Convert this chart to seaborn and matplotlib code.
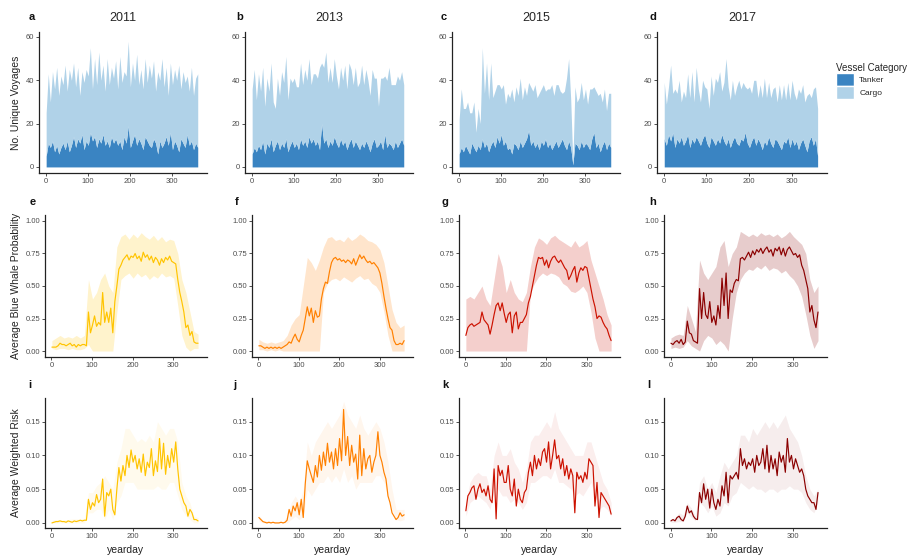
import numpy as np
import matplotlib
matplotlib.use('Agg')
import matplotlib.pyplot as plt
from matplotlib.patches import Patch
import seaborn as sns

years = ['2011', '2013', '2015', '2017']
letters = 'abcdefghijkl'

# day of year, sampled every 5 days (lines / areas) and every 10 days (ribbons)
days5 = np.arange(1, 366, 5)
days10 = np.arange(1, 366, 10)

# ---- row 1: unique voyages per day ----
tanker_2011 = [5, 11, 9, 12, 7, 10, 6, 9, 11, 8,
               12, 7, 10, 14, 9, 13, 11, 15, 8, 12,
               10, 16, 12, 14, 9, 13, 11, 15, 10, 12,
               9, 14, 11, 13, 10, 12, 8, 14, 11, 19,
               9, 12, 15, 10, 13, 11, 8, 14, 12, 10,
               9, 13, 11, 6, 12, 9, 11, 14, 10, 16,
               8, 12, 10, 7, 13, 11, 9, 15, 10, 12,
               8, 11, 9]
cargo_2011 = [20, 32, 21, 32, 29, 36, 27, 33, 27, 39,
              23, 38, 30, 34, 28, 33, 22, 29, 31, 33,
              32, 39, 24, 36, 29, 40, 29, 32, 25, 38,
              29, 32, 30, 36, 26, 39, 31, 30, 31, 39,
              28, 36, 25, 42, 25, 34, 28, 36, 27, 37,
              32, 36, 24, 38, 28, 41, 26, 32, 23, 32,
              30, 33, 30, 40, 23, 33, 30, 27, 25, 34,
              25, 30, 34]
tanker_2013 = [6, 9, 7, 10, 8, 12, 6, 11, 9, 13,
               7, 10, 12, 8, 11, 9, 13, 7, 10, 12,
               9, 11, 8, 13, 10, 12, 9, 14, 11, 13,
               10, 12, 8, 20, 11, 13, 9, 12, 10, 14,
               11, 9, 13, 10, 12, 8, 11, 13, 9, 12,
               10, 8, 11, 9, 12, 10, 7, 11, 13, 9,
               10, 12, 8, 15, 9, 11, 10, 8, 12, 9,
               11, 13, 10]
cargo_2013 = [30, 36, 24, 33, 27, 34, 22, 30, 26, 35,
              23, 17, 29, 25, 33, 30, 38, 24, 31, 27,
              32, 26, 29, 35, 28, 33, 31, 36, 27, 30,
              33, 29, 38, 28, 35, 40, 30, 34, 29, 36,
              31, 27, 33, 30, 35, 28, 37, 32, 29, 34,
              27, 31, 36, 29, 33, 30, 26, 34, 28, 32,
              18, 29, 33, 27, 31, 35, 28, 30, 26, 33,
              29, 31, 28]
tanker_2015 = [6, 9, 7, 10, 8, 6, 11, 9, 7, 10,
               8, 13, 9, 11, 7, 10, 12, 9, 14, 11,
               15, 10, 12, 8, 9, 6, 11, 10, 8, 12,
               9, 11, 13, 17, 10, 12, 9, 11, 8, 12,
               10, 13, 9, 11, 8, 10, 12, 9, 11, 13,
               10, 8, 12, 9, 1, 11, 10, 8, 12, 9,
               11, 10, 8, 13, 16, 9, 11, 7, 10, 12,
               8, 11, 9]
cargo_2015 = [16, 27, 20, 17, 22, 19, 14, 21, 9, 17,
              12, 42, 25, 37, 24, 38, 20, 26, 24, 27,
              21, 28, 17, 26, 23, 30, 19, 27, 25, 29,
              22, 26, 20, 22, 27, 23, 29, 21, 26, 24,
              28, 22, 27, 25, 30, 23, 26, 29, 24, 21,
              25, 33, 38, 22, 1, 26, 20, 24, 27, 22,
              25, 19, 28, 23, 21, 26, 22, 27, 20, 24,
              18, 23, 25]
tanker_2017 = [13, 10, 15, 12, 16, 9, 13, 11, 14, 10,
               12, 15, 9, 13, 11, 14, 12, 10, 13, 15,
               11, 9, 14, 12, 10, 13, 11, 15, 12, 10,
               13, 9, 12, 14, 11, 10, 13, 12, 16, 11,
               9, 12, 14, 10, 13, 11, 8, 12, 10, 14,
               11, 9, 13, 12, 10, 8, 12, 11, 14, 9,
               13, 10, 12, 8, 11, 13, 10, 7, 12, 14,
               10, 13, 5]
cargo_2017 = [26, 19, 22, 35, 18, 27, 21, 29, 16, 25,
              20, 28, 23, 31, 19, 32, 24, 20, 27, 22,
              25, 18, 28, 21, 31, 26, 33, 20, 27, 40,
              24, 22, 28, 19, 26, 30, 23, 27, 21, 25,
              28, 22, 26, 30, 19, 27, 24, 29, 22, 25,
              21, 27, 24, 18, 28, 23, 26, 20, 25, 22,
              27, 24, 19, 28, 23, 25, 20, 26, 22, 18,
              26, 24, 22]

# ---- row 2: average blue whale probability ----
prob_2011 = [0.03, 0.03, 0.03, 0.04, 0.06, 0.05, 0.05, 0.04, 0.05, 0.06,
             0.04, 0.05, 0.03, 0.05, 0.04, 0.05, 0.05, 0.04, 0.30, 0.14,
             0.20, 0.27, 0.19, 0.22, 0.20, 0.45, 0.22, 0.30, 0.22, 0.33,
             0.14, 0.38, 0.50, 0.63, 0.66, 0.70, 0.72, 0.74, 0.70, 0.73,
             0.72, 0.75, 0.71, 0.73, 0.69, 0.76, 0.72, 0.74, 0.70, 0.73,
             0.68, 0.72, 0.70, 0.66, 0.71, 0.68, 0.72, 0.70, 0.73, 0.69,
             0.68, 0.67, 0.55, 0.45, 0.38, 0.30, 0.18, 0.20, 0.12, 0.15,
             0.07, 0.06, 0.06]
prob_lo_2011 = [0.02, 0.01, 0.02, 0.02, 0.01, 0.02, 0.01, 0.01, 0.02, 0.05,
                0.0, 0.0, 0.0, 0.0, 0.0, 0.0, 0.30, 0.55, 0.58, 0.60,
                0.56, 0.60, 0.57, 0.59, 0.55, 0.58, 0.56, 0.60, 0.57, 0.58,
                0.56, 0.35, 0.12, 0.03, 0.0, 0.02, 0.02]
prob_hi_2011 = [0.08, 0.10, 0.12, 0.10, 0.11, 0.10, 0.12, 0.10, 0.12, 0.55,
                0.40, 0.45, 0.55, 0.60, 0.50, 0.45, 0.80, 0.88, 0.90, 0.86,
                0.90, 0.87, 0.91, 0.88, 0.86, 0.89, 0.85, 0.88, 0.84, 0.86,
                0.85, 0.75, 0.55, 0.45, 0.30, 0.15, 0.13]
prob_2013 = [0.04, 0.04, 0.03, 0.02, 0.03, 0.02, 0.03, 0.02, 0.03, 0.02,
             0.03, 0.02, 0.03, 0.04, 0.05, 0.07, 0.06, 0.10, 0.13, 0.09,
             0.07, 0.12, 0.16, 0.25, 0.34, 0.27, 0.33, 0.22, 0.31, 0.26,
             0.27, 0.40, 0.48, 0.53, 0.52, 0.61, 0.68, 0.71, 0.72, 0.70,
             0.71, 0.69, 0.70, 0.68, 0.70, 0.69, 0.67, 0.71, 0.66, 0.70,
             0.74, 0.71, 0.73, 0.70, 0.68, 0.69, 0.67, 0.68, 0.66, 0.64,
             0.60, 0.52, 0.42, 0.33, 0.25, 0.18, 0.16, 0.08, 0.05, 0.05,
             0.06, 0.05, 0.08]
prob_lo_2013 = [0.01, 0.01, 0.0, 0.01, 0.0, 0.01, 0.0, 0.0, 0.0, 0.0,
                0.0, 0.0, 0.0, 0.0, 0.0, 0.0, 0.45, 0.52, 0.55, 0.56,
                0.54, 0.57, 0.55, 0.53, 0.56, 0.58, 0.55, 0.56, 0.52, 0.50,
                0.45, 0.30, 0.12, 0.0, 0.0, 0.0, 0.0]
prob_hi_2013 = [0.09, 0.07, 0.06, 0.07, 0.06, 0.07, 0.08, 0.12, 0.20, 0.25,
                0.28, 0.50, 0.72, 0.68, 0.62, 0.70, 0.80, 0.87, 0.88, 0.85,
                0.86, 0.84, 0.88, 0.85, 0.87, 0.90, 0.88, 0.85, 0.84, 0.82,
                0.78, 0.68, 0.50, 0.32, 0.22, 0.18, 0.20]
prob_2015 = [0.12, 0.18, 0.20, 0.21, 0.19, 0.20, 0.21, 0.22, 0.30, 0.24,
             0.22, 0.20, 0.13, 0.20, 0.28, 0.35, 0.37, 0.31, 0.37, 0.29,
             0.22, 0.28, 0.30, 0.14, 0.27, 0.30, 0.17, 0.22, 0.22, 0.25,
             0.28, 0.37, 0.42, 0.50, 0.58, 0.66, 0.72, 0.71, 0.72, 0.66,
             0.70, 0.64, 0.69, 0.72, 0.73, 0.70, 0.68, 0.70, 0.67, 0.64,
             0.62, 0.55, 0.58, 0.62, 0.65, 0.53, 0.60, 0.64, 0.62, 0.65,
             0.64, 0.56, 0.48, 0.40, 0.34, 0.25, 0.27, 0.26, 0.22, 0.19,
             0.17, 0.12, 0.08]
prob_lo_2015 = [0.0, 0.0, 0.0, 0.0, 0.0, 0.0, 0.0, 0.0, 0.0, 0.0,
                0.0, 0.0, 0.0, 0.0, 0.0, 0.0, 0.45, 0.52, 0.57, 0.60,
                0.58, 0.60, 0.59, 0.57, 0.52, 0.50, 0.46, 0.45, 0.47, 0.50,
                0.45, 0.30, 0.10, 0.0, 0.0, 0.0, 0.0]
prob_hi_2015 = [0.40, 0.42, 0.40, 0.45, 0.50, 0.40, 0.35, 0.55, 0.75, 0.65,
                0.45, 0.55, 0.45, 0.40, 0.38, 0.45, 0.65, 0.80, 0.87, 0.85,
                0.82, 0.87, 0.89, 0.86, 0.84, 0.82, 0.80, 0.85, 0.80, 0.82,
                0.85, 0.70, 0.60, 0.50, 0.40, 0.28, 0.20]
prob_2017 = [0.06, 0.05, 0.07, 0.08, 0.06, 0.09, 0.05, 0.07, 0.23, 0.14,
             0.13, 0.08, 0.07, 0.06, 0.48, 0.25, 0.45, 0.28, 0.25, 0.38,
             0.22, 0.27, 0.20, 0.35, 0.25, 0.56, 0.35, 0.60, 0.25, 0.47,
             0.45, 0.52, 0.55, 0.54, 0.71, 0.72, 0.70, 0.73, 0.76, 0.72,
             0.77, 0.74, 0.78, 0.76, 0.79, 0.75, 0.78, 0.80, 0.76, 0.78,
             0.73, 0.79, 0.77, 0.80, 0.74, 0.79, 0.73, 0.78, 0.80, 0.77,
             0.74, 0.75, 0.72, 0.74, 0.66, 0.62, 0.55, 0.48, 0.30, 0.35,
             0.24, 0.18, 0.30]
prob_lo_2017 = [0.02, 0.03, 0.02, 0.03, 0.08, 0.04, 0.02, 0.0, 0.08, 0.12,
                0.10, 0.05, 0.08, 0.05, 0.0, 0.25, 0.45, 0.55, 0.60, 0.63,
                0.62, 0.65, 0.63, 0.66, 0.62, 0.64, 0.63, 0.60, 0.62, 0.58,
                0.55, 0.50, 0.42, 0.28, 0.12, 0.02, 0.08]
prob_hi_2017 = [0.10, 0.12, 0.13, 0.12, 0.35, 0.25, 0.15, 0.70, 0.60, 0.55,
                0.60, 0.65, 0.80, 0.85, 0.65, 0.75, 0.80, 0.92, 0.90, 0.88,
                0.90, 0.88, 0.91, 0.89, 0.90, 0.88, 0.90, 0.87, 0.89, 0.92,
                0.88, 0.85, 0.82, 0.75, 0.55, 0.45, 0.50]

# ---- row 3: average weighted risk ----
risk_2011 = [0.000, 0.001, 0.002, 0.002, 0.003, 0.002, 0.002, 0.001, 0.003, 0.002,
             0.001, 0.003, 0.002, 0.003, 0.004, 0.003, 0.004, 0.004, 0.035, 0.020,
             0.030, 0.025, 0.042, 0.030, 0.035, 0.065, 0.010, 0.045, 0.040, 0.050,
             0.020, 0.012, 0.050, 0.082, 0.062, 0.085, 0.070, 0.100, 0.082, 0.108,
             0.090, 0.100, 0.080, 0.095, 0.075, 0.102, 0.070, 0.090, 0.082, 0.110,
             0.070, 0.092, 0.076, 0.125, 0.080, 0.118, 0.072, 0.100, 0.082, 0.110,
             0.090, 0.120, 0.080, 0.050, 0.040, 0.030, 0.025, 0.010, 0.020, 0.015,
             0.005, 0.005, 0.003]
risk_lo_2011 = [0.0, 0.0, 0.0, 0.0, 0.0, 0.0, 0.0, 0.0, 0.0, 0.015,
                0.015, 0.02, 0.02, 0.005, 0.02, 0.005, 0.03, 0.04, 0.06, 0.06,
                0.06, 0.05, 0.05, 0.05, 0.05, 0.05, 0.055, 0.05, 0.05, 0.06,
                0.06, 0.04, 0.02, 0.01, 0.005, 0.0, 0.0]
risk_hi_2011 = [0.004, 0.005, 0.005, 0.005, 0.005, 0.006, 0.006, 0.006, 0.007, 0.045,
                0.045, 0.055, 0.06, 0.07, 0.06, 0.05, 0.09, 0.11, 0.14, 0.14,
                0.13, 0.12, 0.125, 0.12, 0.13, 0.12, 0.15, 0.14, 0.13, 0.14,
                0.14, 0.12, 0.06, 0.04, 0.03, 0.01, 0.008]
risk_2013 = [0.008, 0.005, 0.002, 0.001, 0.000, 0.001, 0.000, 0.001, 0.000, 0.000,
             0.000, 0.001, 0.000, 0.001, 0.004, 0.020, 0.010, 0.025, 0.018, 0.030,
             0.012, 0.035, 0.008, 0.058, 0.092, 0.080, 0.070, 0.060, 0.085, 0.068,
             0.100, 0.078, 0.105, 0.085, 0.118, 0.090, 0.105, 0.080, 0.110, 0.085,
             0.125, 0.092, 0.168, 0.100, 0.128, 0.085, 0.115, 0.090, 0.102, 0.065,
             0.130, 0.070, 0.110, 0.080, 0.095, 0.100, 0.075, 0.090, 0.100, 0.135,
             0.100, 0.090, 0.075, 0.065, 0.040, 0.030, 0.015, 0.010, 0.005, 0.008,
             0.015, 0.010, 0.012]
risk_lo_2013 = [0.003, 0.0, 0.0, 0.0, 0.0, 0.0, 0.0, 0.0, 0.005, 0.01,
                0.005, 0.01, 0.05, 0.04, 0.05, 0.06, 0.06, 0.07, 0.06, 0.07,
                0.06, 0.08, 0.06, 0.07, 0.05, 0.06, 0.06, 0.06, 0.06, 0.07,
                0.07, 0.06, 0.04, 0.02, 0.005, 0.003, 0.005]
risk_hi_2013 = [0.012, 0.004, 0.003, 0.002, 0.002, 0.002, 0.002, 0.01, 0.03, 0.04,
                0.03, 0.05, 0.12, 0.10, 0.12, 0.13, 0.14, 0.15, 0.14, 0.15,
                0.16, 0.18, 0.16, 0.15, 0.14, 0.16, 0.14, 0.13, 0.14, 0.15,
                0.14, 0.12, 0.09, 0.05, 0.02, 0.02, 0.02]
risk_2015 = [0.018, 0.040, 0.045, 0.052, 0.055, 0.035, 0.050, 0.058, 0.045, 0.050,
             0.040, 0.055, 0.035, 0.030, 0.080, 0.006, 0.085, 0.070, 0.078, 0.060,
             0.060, 0.085, 0.050, 0.040, 0.065, 0.025, 0.050, 0.035, 0.030, 0.045,
             0.050, 0.075, 0.090, 0.070, 0.100, 0.080, 0.095, 0.085, 0.105, 0.110,
             0.090, 0.120, 0.080, 0.100, 0.123, 0.095, 0.100, 0.080, 0.095, 0.070,
             0.085, 0.065, 0.080, 0.070, 0.015, 0.075, 0.065, 0.070, 0.060, 0.075,
             0.065, 0.095, 0.090, 0.085, 0.025, 0.060, 0.008, 0.045, 0.040, 0.035,
             0.030, 0.025, 0.013]
risk_lo_2015 = [0.01, 0.03, 0.035, 0.04, 0.035, 0.03, 0.02, 0.05, 0.05, 0.04,
                0.04, 0.03, 0.035, 0.03, 0.02, 0.03, 0.06, 0.06, 0.065, 0.07,
                0.07, 0.065, 0.08, 0.06, 0.06, 0.055, 0.05, 0.04, 0.045, 0.04,
                0.05, 0.06, 0.04, 0.02, 0.025, 0.02, 0.01]
risk_hi_2015 = [0.03, 0.06, 0.07, 0.075, 0.07, 0.07, 0.05, 0.10, 0.12, 0.10,
                0.10, 0.11, 0.09, 0.08, 0.06, 0.08, 0.12, 0.13, 0.13, 0.14,
                0.15, 0.14, 0.165, 0.14, 0.13, 0.12, 0.11, 0.10, 0.10, 0.10,
                0.12, 0.12, 0.10, 0.08, 0.06, 0.05, 0.03]
risk_2017 = [0.003, 0.005, 0.003, 0.008, 0.010, 0.005, 0.003, 0.010, 0.025, 0.015,
             0.018, 0.010, 0.006, 0.005, 0.045, 0.030, 0.058, 0.035, 0.050, 0.022,
             0.050, 0.030, 0.020, 0.035, 0.025, 0.055, 0.040, 0.075, 0.030, 0.070,
             0.065, 0.070, 0.075, 0.065, 0.110, 0.085, 0.095, 0.080, 0.090, 0.085,
             0.095, 0.075, 0.100, 0.085, 0.090, 0.110, 0.080, 0.115, 0.075, 0.100,
             0.080, 0.095, 0.070, 0.105, 0.090, 0.100, 0.075, 0.125, 0.090, 0.100,
             0.080, 0.095, 0.085, 0.075, 0.080, 0.070, 0.050, 0.040, 0.035, 0.030,
             0.030, 0.020, 0.045]
risk_lo_2017 = [0.001, 0.001, 0.002, 0.002, 0.015, 0.008, 0.003, 0.03, 0.025, 0.015,
                0.025, 0.01, 0.015, 0.03, 0.025, 0.04, 0.045, 0.06, 0.055, 0.05,
                0.055, 0.05, 0.05, 0.045, 0.05, 0.05, 0.045, 0.05, 0.05, 0.055,
                0.05, 0.05, 0.045, 0.03, 0.02, 0.015, 0.03]
risk_hi_2017 = [0.006, 0.008, 0.015, 0.012, 0.03, 0.022, 0.01, 0.06, 0.07, 0.05,
                0.06, 0.045, 0.07, 0.09, 0.08, 0.09, 0.10, 0.13, 0.13, 0.12,
                0.14, 0.13, 0.14, 0.15, 0.14, 0.15, 0.14, 0.15, 0.16, 0.14,
                0.13, 0.12, 0.10, 0.07, 0.05, 0.04, 0.05]

tanker = dict(zip(years, [tanker_2011, tanker_2013, tanker_2015, tanker_2017]))
cargo = dict(zip(years, [cargo_2011, cargo_2013, cargo_2015, cargo_2017]))
prob = dict(zip(years, [(prob_2011, prob_lo_2011, prob_hi_2011),
                        (prob_2013, prob_lo_2013, prob_hi_2013),
                        (prob_2015, prob_lo_2015, prob_hi_2015),
                        (prob_2017, prob_lo_2017, prob_hi_2017)]))
risk = dict(zip(years, [(risk_2011, risk_lo_2011, risk_hi_2011),
                        (risk_2013, risk_lo_2013, risk_hi_2013),
                        (risk_2015, risk_lo_2015, risk_hi_2015),
                        (risk_2017, risk_lo_2017, risk_hi_2017)]))

year_colors = {'2011': '#FFC400', '2013': '#FF8000', '2015': '#CC1100', '2017': '#8B0000'}
tanker_color = '#3A84C2'
cargo_color = '#B0D2E8'

sns.set_theme(style='ticks')
plt.rcParams['font.family'] = ['Liberation Sans', 'DejaVu Sans']

W, H = 912, 558
fig = plt.figure(figsize=(W / 100, H / 100), dpi=100)

# panel boxes in pixels (left, top, right, bottom)
lefts_top = [39, 245, 452, 657]
lefts_low = [45, 252, 459, 664]
rights = [207, 413, 620, 827]
rows_y = [(32, 173), (215, 357), (398, 528)]
letter_pos = [[(32, 17), (240, 17), (444, 17), (653, 17)],
              [(33, 202), (237, 202), (445, 202), (653, 202)],
              [(30, 385), (235, 385), (445, 385), (649, 385)]]


def px_axes(l, t, r, b):
    return fig.add_axes([l / W, 1 - b / H, (r - l) / W, (b - t) / H])


def style_ax(ax, ylim, yticks, ylabels):
    ax.set_xlim(-16, 383)
    ax.set_ylim(*ylim)
    ax.set_xticks([0, 100, 200, 300])
    ax.set_yticks(yticks)
    ax.set_yticklabels(ylabels)
    ax.tick_params(labelsize=5.5, labelcolor='#4d4d4d', length=2.2, width=0.6,
                   color='#333333', pad=1.2)
    sns.despine(ax=ax)
    for s in ['left', 'bottom']:
        ax.spines[s].set_color('#222222')
        ax.spines[s].set_linewidth(0.9)
    ax.set_xlabel('')
    ax.set_ylabel('')


for r in range(3):
    t, b = rows_y[r]
    for c, yr in enumerate(years):
        l = lefts_top[c] if r == 0 else lefts_low[c]
        ax = px_axes(l, t, rights[c], b)
        col = year_colors[yr]
        if r == 0:
            ax.stackplot(days5, tanker[yr], cargo[yr],
                         colors=[tanker_color, cargo_color], linewidth=0)
            style_ax(ax, (-2.8, 62.3), [0, 20, 40, 60], ['0', '20', '40', '60'])
            ax.text(0.5, 1 + 14 / (b - t), yr, transform=ax.transAxes,
                    ha='center', va='center', fontsize=9)
        elif r == 1:
            mean, lo, hi = prob[yr]
            ax.fill_between(days10, lo, hi, color=col, alpha=0.2, linewidth=0)
            sns.lineplot(x=days5, y=mean, ax=ax, color=col, linewidth=0.85)
            style_ax(ax, (-0.046, 1.046), [0, 0.25, 0.5, 0.75, 1.0],
                     ['0.00', '0.25', '0.50', '0.75', '1.00'])
        else:
            mean, lo, hi = risk[yr]
            ax.fill_between(days10, lo, hi, color=col, alpha=0.07, linewidth=0)
            sns.lineplot(x=days5, y=mean, ax=ax, color=col, linewidth=0.85)
            style_ax(ax, (-0.0075, 0.185), [0, 0.05, 0.10, 0.15],
                     ['0.00', '0.05', '0.10', '0.15'])
            ax.set_xlabel('yearday', fontsize=7.5, color='#222222')
            ax.xaxis.set_label_coords(0.5, -(550 - b) / (b - t))
            ax.xaxis.label.set_va('center')
        if c == 0:
            ylab = ['No. Unique Voyages', 'Average Blue Whale Probability',
                    'Average Weighted Risk'][r]
            ax.set_ylabel(ylab, fontsize=7.5, color='#222222')
            ax.yaxis.set_label_coords((16 - l) / (rights[c] - l), 0.5)
            ax.yaxis.label.set_va('center')
        lx, ly = letter_pos[r][c]
        fig.text(lx / W, 1 - ly / H, letters[r * 4 + c], fontsize=8,
                 fontweight='bold', ha='center', va='center', color='#111111')

handles = [Patch(facecolor=tanker_color, label='Tanker'),
           Patch(facecolor=cargo_color, label='Cargo')]
leg = fig.legend(handles=handles, title='Vessel Category', loc='upper left',
                 bbox_to_anchor=(836 / W, 1 - 63 / H), frameon=False,
                 fontsize=6, title_fontsize=7, handlelength=2.2, handleheight=2.0,
                 labelspacing=0.0, handletextpad=0.6, borderpad=0, borderaxespad=0,
                 alignment='left')

fig.savefig('out.png', dpi=100)
